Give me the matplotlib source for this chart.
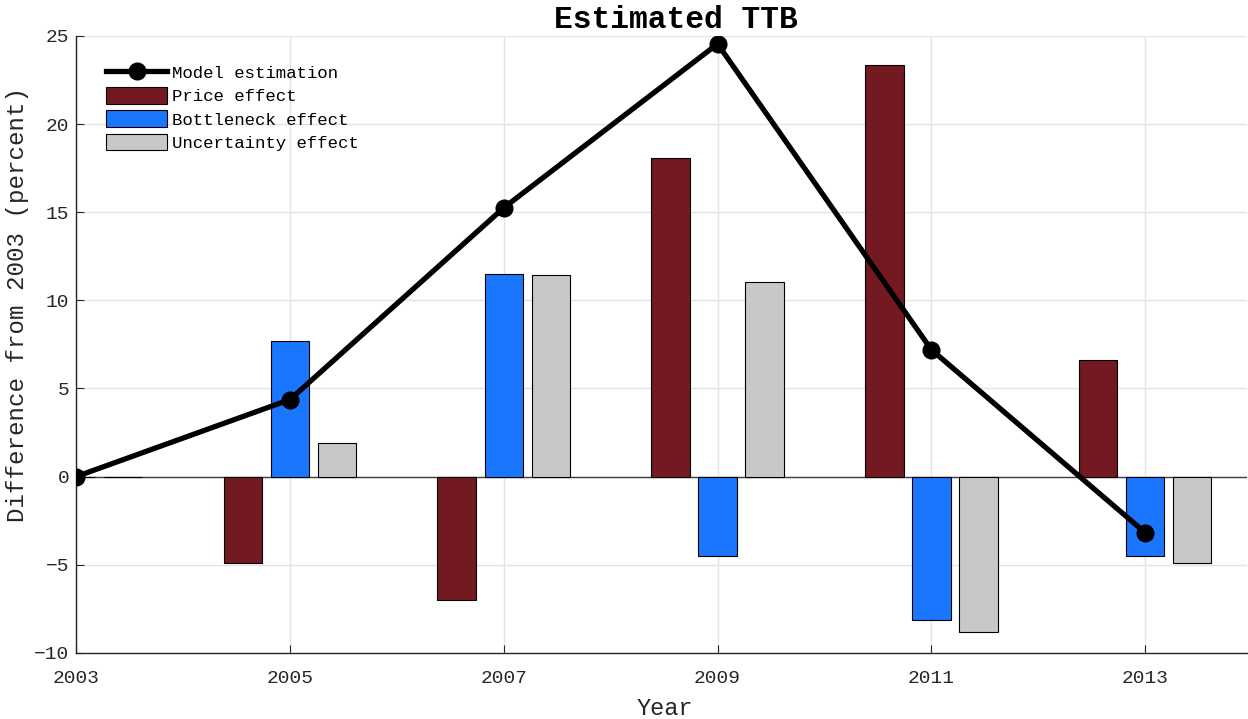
import matplotlib
matplotlib.use("Agg")
import matplotlib.pyplot as plt
import numpy as np

years = [2003, 2005, 2007, 2009, 2011, 2013]
model_estimation = [0.0, 4.37, 15.25, 24.55, 7.2, -3.18]
price_effect = [0.0, -4.88, -6.98, 18.08, 23.37, 6.64]
bottleneck_effect = [0.0, 7.71, 11.51, -4.48, -8.11, -4.48]
uncertainty_effect = [0.0, 1.93, 11.46, 11.06, -8.79, -4.88]
xticks = [2003, 2005, 2007, 2009, 2011, 2013]
yticks = [-10, -5, 0, 5, 10, 15, 20, 25]

plt.rcParams['font.family'] = ['Liberation Mono', 'DejaVu Sans Mono']

fig = plt.figure(figsize=(12.48, 7.19), dpi=100)
ax = fig.add_axes([0.061, 0.092, 0.938, 0.858])

x = np.array(years, dtype=float)
offset = 0.44
width = 0.36
line, = ax.plot(x, model_estimation, color='black', linewidth=3.8, marker='o', markersize=12,
                label='Model estimation', zorder=4)
ax.bar(x - offset, price_effect, width, color='#721921', edgecolor='black', linewidth=0.8,
       label='Price effect', zorder=3)
ax.bar(x, bottleneck_effect, width, color='#1a75ff', edgecolor='black', linewidth=0.8,
       label='Bottleneck effect', zorder=3)
ax.bar(x + offset, uncertainty_effect, width, color='#c8c8c8', edgecolor='black', linewidth=0.8,
       label='Uncertainty effect', zorder=3)
ax.axhline(0, color='#404040', linewidth=1.0, zorder=2)

ax.set_xlim(2003, 2013.95)
ax.set_ylim(-10, 25)
ax.set_xticks(xticks)
ax.set_yticks(yticks)
ax.set_yticklabels([str(v).replace('-', '\u2212') for v in yticks])
ax.grid(True, color='#e3e3e3', linewidth=1.0, zorder=0)
ax.set_axisbelow(True)
for s in ['top', 'right']:
    ax.spines[s].set_visible(False)
for s in ['left', 'bottom']:
    ax.spines[s].set_color('#262626')
    ax.spines[s].set_linewidth(1.0)
ax.tick_params(direction='in', length=6, colors='#262626', labelsize=14, pad=4)
ax.tick_params(axis='x', pad=12)
ax.tick_params(axis='y', pad=5)

ax.set_title('Estimated TTB', fontsize=22.5, fontweight='bold', pad=0, x=0.512, y=1.013)
ax.set_xlabel('Year', fontsize=17, color='#262626')
ax.xaxis.set_label_coords(0.503, -0.072)
ax.set_ylabel('Difference from 2003 (percent)', fontsize=17.4, color='#262626')
ax.yaxis.set_label_coords(-0.040, 0.564)

handles, labels = ax.get_legend_handles_labels()
ax.legend(handles, labels, loc='upper left',
          frameon=False, fontsize=12.5, handlelength=3.5, handleheight=1.1,
          handletextpad=0.3, labelspacing=0.35, borderaxespad=0.0,
          bbox_to_anchor=(0.020, 0.966))

fig.savefig('out.png', dpi=100)
